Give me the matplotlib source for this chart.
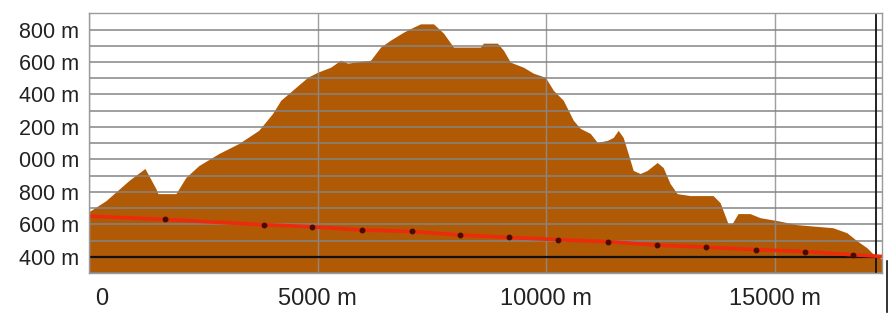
import matplotlib
matplotlib.use("Agg")
import matplotlib.pyplot as plt
from matplotlib.lines import Line2D
from matplotlib.transforms import ScaledTranslation
import matplotlib.font_manager as fm

# ---- data ----
distance_m = [0, 371, 873, 1223, 1463, 1507, 1900, 2118, 2402, 2838, 3275, 3712,
              4017, 4192, 4782, 5000, 5284, 5502, 5655, 6157, 6376, 6594, 6878,
              7096, 7249, 7533, 7751, 7969, 8559, 8624, 8930, 9061, 9214, 9498,
              9716, 9978, 10153, 10371, 10590, 10742, 10961, 11114, 11332, 11463,
              11572, 11681, 11769, 11900, 12052, 12205, 12424, 12555, 12707, 12860,
              13144, 13646, 13799, 13974, 14061, 14192, 14454, 14672, 15044, 15480,
              16266, 16572, 16790, 17009, 17140, 17293, 17340]
elevation_m = [678, 746, 870, 944, 820, 789, 789, 889, 962, 1036, 1098, 1179,
               1284, 1364, 1506, 1537, 1568, 1611, 1593, 1611, 1692, 1735, 1784,
               1815, 1835, 1835, 1778, 1692, 1692, 1716, 1716, 1673, 1599, 1568,
               1531, 1506, 1426, 1364, 1241, 1191, 1160, 1105, 1117, 1135,
               1179, 1135, 1055, 932, 913, 932, 981, 950, 851, 789,
               777, 777, 734, 604, 604, 666, 666, 641, 623, 598,
               579, 548, 499, 456, 419, 394, 385]

red_x = [0, 1659, 3821, 4869, 5961, 7052, 8122, 9192, 10262, 11354, 12424,
         13493, 14585, 15655, 16703, 17340]
red_y = [650, 630, 597, 585, 565, 556, 534, 519, 505, 493, 472,
         459, 444, 432, 412, 402]

reference_level = 400
route_end = 17205

y_ticks = [400, 600, 800, 1000, 1200, 1400, 1600, 1800]
y_labels = ["400 m", "600 m", "800 m", "000 m", "200 m", "400 m", "600 m", "800 m"]
y_minor = list(range(300, 2000, 100))
x_ticks = [0, 5000, 10000, 15000]
x_labels = ["0", "5000 m", "10000 m", "15000 m"]

# ---- fonts: look for a narrow Arial-like face for the x labels ----
xfont = fm.FontProperties(family="Liberation Sans", size=17)
for f in fm.fontManager.ttflist:
    if f.name in ("Liberation Sans Narrow", "Arial Narrow") and f.weight in (400, "normal", "regular") and f.style == "normal":
        xfont = fm.FontProperties(fname=f.fname, size=18.5)
        break

fig = plt.figure(figsize=(8.93, 3.15), dpi=100)
ax = fig.add_axes([89/893, 1-273/315, (882-89)/893, (273-13.3)/315])

ax.fill_between(distance_m, 300, elevation_m, color="#b05a05", linewidth=0, zorder=1)

ax.set_xlim(0, 17340)
ax.set_ylim(300, 1900)

ax.set_yticks(y_minor, minor=True)
ax.set_yticks(y_ticks)
ax.set_yticklabels(y_labels, fontsize=15.5, family="Liberation Sans", color="#222222")
ax.set_xticks(x_ticks)
ax.set_xticklabels(x_labels, fontproperties=xfont, color="#222222")
ax.tick_params(axis="both", which="both", length=0)
ax.tick_params(axis="y", pad=7)
ax.tick_params(axis="x", pad=11)

ax.grid(axis="y", which="both", color="#858585", alpha=0.85, linewidth=1.3)
ax.grid(axis="x", which="major", color="#8e8e8e", alpha=0.85, linewidth=1.0)

ax.axhline(reference_level, color="#111111", linewidth=1.6, zorder=1.8)
ax.axvline(route_end, color="#111111", linewidth=1.3, zorder=1.8)

ax.plot(red_x, red_y, color="#ec2a0c", linewidth=2.6, zorder=2.5)
ax.plot(red_x[1:-1], red_y[1:-1], linestyle="none", marker="o", markersize=3.2,
        color="#4a0a00", zorder=2.6)

for s in ax.spines.values():
    s.set_color("#9a9a9a")
    s.set_linewidth(1.0)

# first x label is shifted to the right in the reference
lab0 = ax.get_xticklabels()[0]
lab0.set_transform(lab0.get_transform() + ScaledTranslation(13/100, 0, fig.dpi_scale_trans))

# small artifact line below the right edge
fig.add_artist(Line2D([887/893, 887/893], [1-261/315, 1-312/315], color="#111111", linewidth=1.2))

fig.savefig("out.png", dpi=100)
